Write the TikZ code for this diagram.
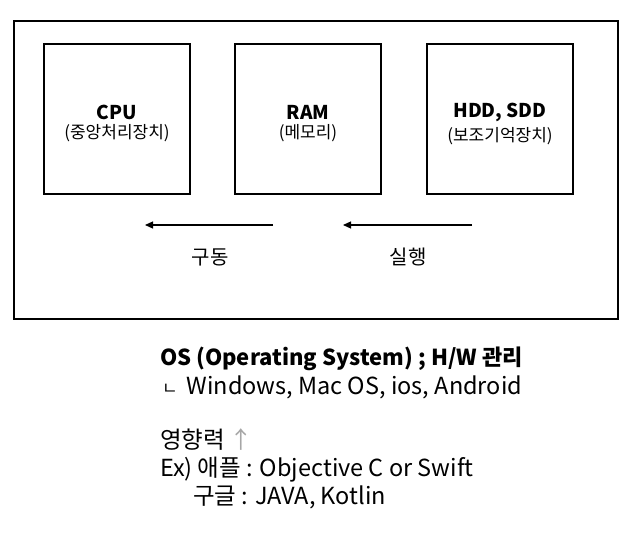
\documentclass[tikz,border=0pt]{standalone}
\usepackage{fontspec}
\setmainfont{Noto Sans CJK KR}
\usepackage{tikz}
\usetikzlibrary{positioning,arrows.meta}
\def\unittitle#1{{\fontsize{19}{22}\selectfont\bfseries\rule{0pt}{24pt}#1}}
\def\unitsub#1{{\fontsize{17}{20}\selectfont #1}}

\begin{document}
\begin{tikzpicture}[x=1pt, y=-1pt,
                      every node/.style = {inner sep=0pt, outer sep=0pt},
                      unit/.style = {draw, line width=1.2pt, minimum width=146pt,
                        minimum height=150pt, align=center},
                      flow/.style = {draw, line width=1.1pt,
                        -{Triangle[length=8pt,width=7pt]}},
                      txt/.style = {anchor=west, font=\fontsize{23.5}{26}\selectfont}]
  \useasboundingbox (0,0) rectangle (642,537);
  \draw[line width=1.2pt] (14,21) rectangle (618,319);
  \node[unit] (cpu) at (117,119) {\unittitle{CPU}\\[4pt] \unitsub{(중앙처리장치)}};
  \node[unit] (ram) at (308,119) {\unittitle{RAM}\\[4pt] \unitsub{(메모리)}};
  \node[unit] (hdd) at (500,119) {\unittitle{HDD, SDD}\\[4pt] \unitsub{(보조기억장치)}};
  % arrows
  \coordinate (run1) at (273,225);
  \coordinate (run0) at (145,225);
  \coordinate (exe1) at (472,225);
  \coordinate (exe0) at (343,225);
  \draw[flow] (run1) -- (run0);
  \draw[flow] (exe1) -- (exe0);
  \node[font=\fontsize{20}{22}\selectfont] (drive) at (210,257) {구동};
  \node[font=\fontsize{20}{22}\selectfont] (exec) at (408,257) {실행};
  % notes
  \node[txt, font=\fontsize{22}{24}\selectfont\bfseries] (osline) at (160,359)
    {OS (Operating System) ; H/W 관리};
  \node[txt] (oslist) at (162,387) {{\fontsize{17}{18}\selectfont ㄴ}\hspace{9pt}Windows, Mac OS, ios, Android};
  \node[txt] (effect) at (160,440) {영향력\hspace{5pt}{\color{gray!70}↑}};
  \node[txt] (apple) at (160,470) {Ex) 애플 : Objective C or Swift};
  \node[txt] (google) at (193,497) {구글 : JAVA, Kotlin};
\end{tikzpicture}
\end{document}
